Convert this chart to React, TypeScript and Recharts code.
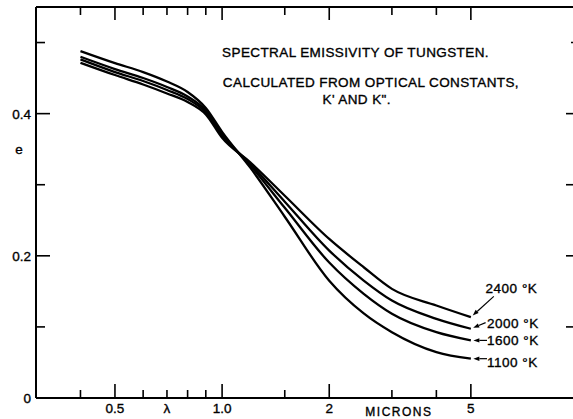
import React from 'react'
import { Line, LineChart, ReferenceDot, ReferenceLine, XAxis, YAxis } from 'recharts'

// wavelength in microns
const wavelengths = [0.4, 0.5, 0.6, 0.7, 0.8, 0.9, 1.0, 1.2, 1.5, 2.0, 2.5, 3.0, 4.0, 5.0]
const e1100 = [0.488, 0.4711, 0.4585, 0.4452, 0.4305, 0.408, 0.3743, 0.324, 0.255, 0.165, 0.119, 0.0926, 0.0646, 0.0553]
const e1600 = [0.48, 0.4627, 0.4501, 0.4375, 0.4241, 0.4045, 0.3715, 0.3273, 0.2676, 0.1905, 0.1465, 0.1185, 0.0926, 0.081]
const e2000 = [0.4763, 0.4585, 0.4459, 0.4333, 0.4206, 0.4017, 0.3687, 0.3294, 0.2761, 0.2073, 0.1652, 0.1371, 0.1114, 0.0974]
const e2400 = [0.4716, 0.4543, 0.441, 0.4284, 0.4164, 0.3989, 0.3659, 0.3315, 0.2845, 0.2237, 0.1839, 0.1535, 0.1301, 0.1137]

const xTicks = [0.4, 0.5, 0.6, 0.7, 0.8, 0.9, 1.0, 1.5, 2, 3, 4, 5]
const xMajor = [0.5, 1.0, 2, 5]
const xLabels: Record<string, string> = { '0.5': '0.5', '0.7': 'λ', '1': '1.0', '2': '2', '3': 'MICRONS', '5': '5' }

const yTicks = [0, 0.1, 0.2, 0.3, 0.35, 0.4, 0.5]
const yMajor = [0, 0.2, 0.4]
const yLabels: Record<string, string> = { '0': '0', '0.2': '0.2', '0.35': 'e', '0.4': '0.4' }

const xMin = 0.3
const xMax = 10
const yMax = 0.55

// title lines, anchored in data units (left edge of each line)
const titleLines = [
  { text: 'SPECTRAL EMISSIVITY OF TUNGSTEN.', x: 1.0, y: 0.4795 },
  { text: 'CALCULATED FROM OPTICAL CONSTANTS,', x: 1.005, y: 0.4375 },
  { text: "K' AND K\".", x: 1.915, y: 0.4135 },
]

// curve labels: text anchor and arrow tail, in data units
const curveLabels = [
  { name: '2400 °K', values: e2400, tx: 5.5, ty: 0.155, ax: 5.8, ay: 0.143 },
  { name: '2000 °K', values: e2000, tx: 5.55, ty: 0.1055, ax: 5.5, ay: 0.106 },
  { name: '1600 °K', values: e1600, tx: 5.55, ty: 0.081, ax: 5.55, ay: 0.081 },
  { name: '1100 °K', values: e1100, tx: 5.55, ty: 0.051, ax: 5.55, ay: 0.0553 },
]

const data = wavelengths.map((w, i) => ({
  w,
  e1100: e1100[i],
  e1600: e1600[i],
  e2000: e2000[i],
  e2400: e2400[i],
}))

// chart box: 600 x 419, margins top 7 / right 21, x axis 21 high, y axes 36 + 1 wide
const PLOT_W = 542
const PLOT_H = 391

const FONT = '"Liberation Sans", Arial, sans-serif'
const ink = { fill: '#000', stroke: '#000', strokeWidth: 0.35 }

// bottom ticks point up from the axis; the matching top-frame tick is drawn here too
function BottomTick({ x, y, payload }: any) {
  const v = payload.value
  const label = xLabels[String(v)]
  const major = xMajor.includes(v)
  const top = y - PLOT_H
  return (
    <g>
      <line x1={x} x2={x} y1={y} y2={y - (major ? 14 : 8)} stroke="#000" strokeWidth={1.6} />
      <line x1={x} x2={x} y1={top} y2={top + (major ? 13 : 8)} stroke="#000" strokeWidth={1.6} />
      {label && (
        <text
          x={label === 'MICRONS' ? x + 7 : x}
          y={label === 'MICRONS' ? y + 18 : y + 15}
          textAnchor="middle"
          fontFamily={FONT}
          fontSize={label === 'MICRONS' ? 12 : 13.5}
          letterSpacing={label === 'MICRONS' ? 1.5 : 0}
          {...ink}
        >
          {label}
        </text>
      )}
    </g>
  )
}

function LeftTick({ x, y, payload }: any) {
  const v = payload.value
  const label = yLabels[String(v)]
  const len = v === 0.35 || v === 0 ? 0 : yMajor.includes(v) ? 14 : 9
  return (
    <g>
      {len > 0 && <line x1={x} x2={x + len} y1={y} y2={y} stroke="#000" strokeWidth={1.6} />}
      {label && (
        <text
          x={v === 0.35 ? x - 17 : x - 5}
          y={y + 5}
          textAnchor={v === 0.35 ? 'middle' : 'end'}
          fontFamily={FONT}
          fontSize={13.5}
          {...ink}
        >
          {label}
        </text>
      )}
    </g>
  )
}

function RightTick({ x, y, payload }: any) {
  const v = payload.value
  if (v === 0.35 || v === 0) return null
  const len = v === 0.5 ? 7 : 12
  return <line x1={x} x2={x - len} y1={y} y2={y} stroke="#000" strokeWidth={1.6} />
}

function Arrow({ x1, y1, x2, y2 }: any) {
  const dx = x2 - x1
  const dy = y2 - y1
  const d = Math.sqrt(dx * dx + dy * dy) || 1
  const ux = dx / d
  const uy = dy / d
  // stop just short of the curve end
  const tx = x2 - ux * 2.5
  const ty = y2 - uy * 2.5
  const bx = tx - ux * 6
  const by = ty - uy * 6
  return (
    <g>
      <line x1={x1} y1={y1} x2={bx} y2={by} stroke="#000" strokeWidth={1.2} />
      <polygon
        points={`${tx},${ty} ${bx - uy * 2.2},${by + ux * 2.2} ${bx + uy * 2.2},${by - ux * 2.2}`}
        fill="#000"
      />
    </g>
  )
}

const axisLine = { stroke: '#000', strokeWidth: 2 }

export default function App() {
  return (
    <div style={{ position: 'absolute', left: 0, top: 0, width: 573, height: 419, overflow: 'hidden', background: '#fff' }}>
      <LineChart width={600} height={419} data={data} margin={{ top: 7, right: 21, bottom: 0, left: 0 }}>
        <XAxis
          dataKey="w"
          type="number"
          scale="log"
          domain={[xMin, xMax]}
          allowDataOverflow
          ticks={xTicks}
          interval={0}
          height={21}
          tickSize={0}
          tickMargin={0}
          tick={<BottomTick />}
          axisLine={axisLine}
        />
        <YAxis
          type="number"
          domain={[0, yMax]}
          allowDataOverflow
          ticks={yTicks}
          interval={0}
          width={36}
          tickSize={0}
          tickMargin={0}
          tick={<LeftTick />}
          axisLine={axisLine}
        />
        <YAxis
          yAxisId="right"
          orientation="right"
          type="number"
          domain={[0, yMax]}
          allowDataOverflow
          ticks={yTicks}
          interval={0}
          width={1}
          tickSize={0}
          tickMargin={0}
          tick={<RightTick />}
          axisLine={axisLine}
        />
        {(['e1100', 'e1600', 'e2000', 'e2400'] as const).map((k) => (
          <Line
            key={k}
            dataKey={k}
            type="monotone"
            stroke="#000"
            strokeWidth={2.3}
            dot={false}
            activeDot={false}
            isAnimationActive={false}
          />
        ))}
        {curveLabels.map((c) => (
          <ReferenceLine
            key={c.name + '-arrow'}
            segment={[
              { x: c.ax, y: c.ay },
              { x: wavelengths[wavelengths.length - 1], y: c.values[c.values.length - 1] },
            ]}
            shape={<Arrow />}
          />
        ))}
        {curveLabels.map((c) => (
          <ReferenceDot
            key={c.name}
            x={c.tx}
            y={c.ty}
            r={0}
            shape={(p: any) => (
              <text x={p.cx} y={p.cy + 5} fontFamily={FONT} fontSize={13.5} letterSpacing={0.5} {...ink}>
                {c.name}
              </text>
            )}
          />
        ))}
        {titleLines.map((t) => (
          <ReferenceDot
            key={t.text}
            x={t.x}
            y={t.y}
            r={0}
            shape={(p: any) => (
              <text x={p.cx} y={p.cy} fontFamily={FONT} fontSize={13.5} letterSpacing={0.4} {...ink}>
                {t.text}
              </text>
            )}
          />
        ))}
      </LineChart>
      {/* top edge of the frame */}
      <div style={{ position: 'absolute', left: 36, top: 6, width: PLOT_W, height: 2, background: '#000' }} />
    </div>
  )
}
